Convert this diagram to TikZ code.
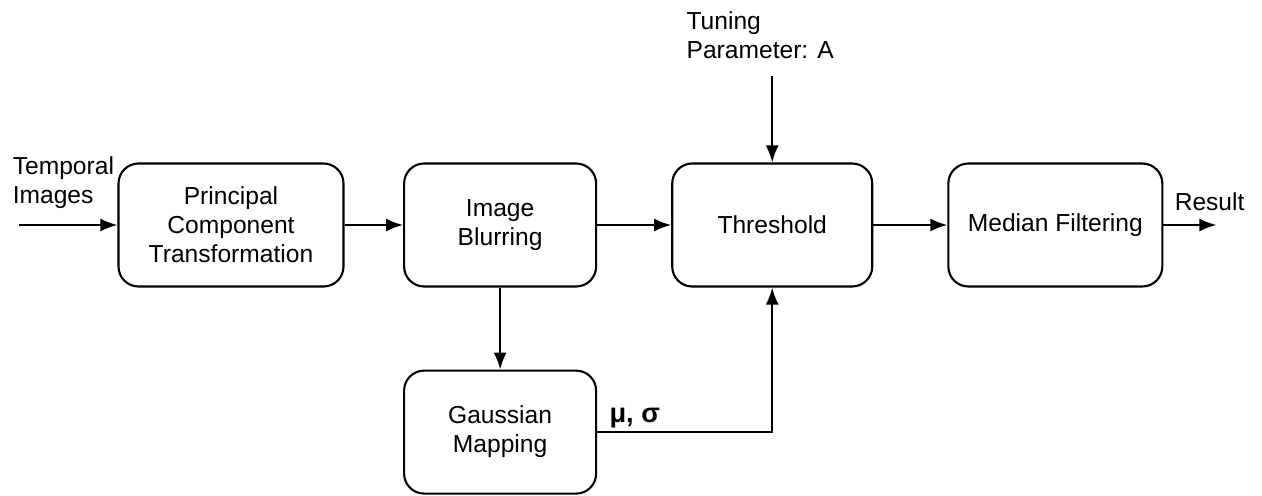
\documentclass[tikz,border=0pt]{standalone}
\usepackage{fontspec}
\setmainfont{Liberation Sans}
\usetikzlibrary{shapes,arrows.meta,positioning}
\tikzstyle{block} = [rectangle, draw, line width=1.2pt, align=center,
    rounded corners=0.4cm, minimum height=2.46cm, inner sep=0pt]
\tikzstyle{line} = [draw, line width=1.1pt, -{Latex[length=3.4mm,width=2.6mm]}]
\tikzstyle{lbl} = [inner sep=0pt, align=left]

\begin{document}
\begin{tikzpicture}[font=\fontsize{14}{16.5}\selectfont]
        \useasboundingbox (0,0) rectangle (25.24,-9.9);
        % Place nodes

        % 1. Principal component transformation of the temporal images
        \node [block, minimum width=4.5cm] (pct) at (4.62,-4.5)
              {Principal\\Component\\Transformation};
        \coordinate [left=1.96cm of pct] (in); % free end of input arrow
        \node [lbl, anchor=south west] (tin) at ([shift={(-0.14,0.32)}]in)
              {Temporal\\Images};

        % 2. Blur the image, then map it to a gaussian
        \node [block, minimum width=3.84cm, right=1.17cm of pct] (blur) {Image\\Blurring};
        \node [block, minimum width=3.84cm, below=1.64cm of blur] (gaus) {Gaussian\\Mapping};

        % 3. Threshold with tuning parameter
        \node [block, minimum width=4cm, right=1.48cm of blur] (thr) {Threshold};
        \node [lbl, above=2.06cm of thr, xshift=-0.24cm] (tune) {Tuning\\Parameter: A};

        % 4. Median filtering gives the result
        \node [block, minimum width=4.28cm, right=1.48cm of thr] (med) {Median Filtering};
        \coordinate [right=1.06cm of med] (out); % free end of output arrow
        \node [lbl, anchor=south west] (res) at ([shift={(-0.84,0.28)}]out) {Result};

        % Draw edges
        \path [line] (in) -- (pct);
        \path [line] (pct) -- (blur);
        \path [line] (blur) -- (thr);
        \path [line] (blur) -- (gaus);
        \path [line] (thr) -- (med);
        \path [line] (med) -- (out);
        \path [line, shorten <=0.34cm] (tune.south -| thr.north) -- (thr.north);
        \path [line] (gaus.east) -| (thr.south);
        \node [lbl, anchor=base west, font=\fontsize{15.5}{18}\selectfont\bfseries]
              (musig) at ([shift={(0.24,0.2)}]gaus.east) {μ, σ};

      \end{tikzpicture}
\end{document}
